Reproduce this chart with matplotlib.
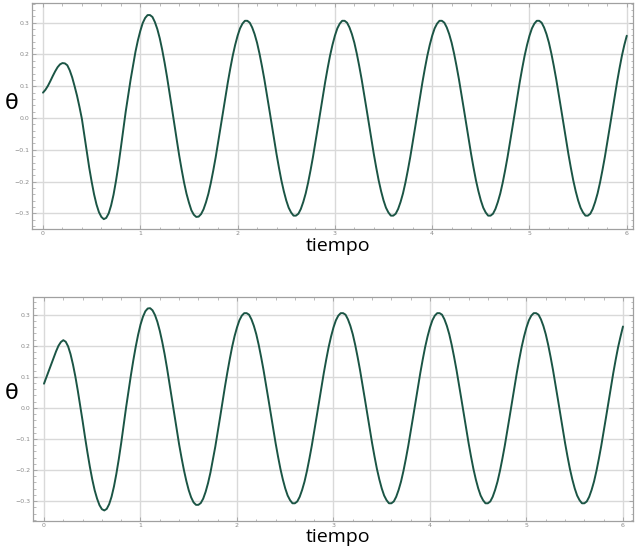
import numpy as np
import matplotlib
matplotlib.use("Agg")
import matplotlib.pyplot as plt
from matplotlib.ticker import MultipleLocator

# time samples (s)
tiempo = [round(0.025 * i, 3) for i in range(241)]

# theta, upper panel, t = 0 ... 6 step 0.025
theta_sup = [
    # 0.00 - 0.975
    0.080, 0.089, 0.101, 0.116, 0.132, 0.147, 0.160, 0.169, 0.173, 0.172,
    0.166, 0.150, 0.128, 0.100, 0.070, 0.035, -0.003, -0.053, -0.105, -0.156,
    -0.200, -0.240, -0.272, -0.296, -0.311, -0.318, -0.314, -0.300, -0.275, -0.241,
    -0.198, -0.149, -0.094, -0.036, 0.020, 0.071, 0.120, 0.165, 0.208, 0.244,
    # 1.00 - 1.975
    0.274, 0.299, 0.315, 0.324, 0.324, 0.318, 0.302, 0.280, 0.251, 0.215,
    0.174, 0.129, 0.081, 0.031, -0.020, -0.069, -0.118, -0.162, -0.203, -0.238,
    -0.266, -0.290, -0.304, -0.311, -0.310, -0.302, -0.287, -0.265, -0.238, -0.204,
    -0.165, -0.123, -0.077, -0.029, 0.019, 0.067, 0.113, 0.156, 0.196, 0.230,
    # 2.00 - 2.975
    0.259, 0.282, 0.297, 0.306, 0.306, 0.300, 0.285, 0.264, 0.237, 0.203,
    0.164, 0.122, 0.076, 0.029, -0.019, -0.067, -0.113, -0.156, -0.196, -0.230,
    -0.259, -0.282, -0.297, -0.307, -0.307, -0.301, -0.286, -0.264, -0.237, -0.203,
    -0.164, -0.122, -0.076, -0.029, 0.019, 0.067, 0.113, 0.156, 0.196, 0.230,
    # 3.00 - 3.975
    0.259, 0.282, 0.297, 0.306, 0.306, 0.300, 0.285, 0.264, 0.237, 0.203,
    0.164, 0.122, 0.076, 0.029, -0.019, -0.067, -0.113, -0.156, -0.196, -0.230,
    -0.259, -0.282, -0.297, -0.307, -0.307, -0.301, -0.286, -0.264, -0.237, -0.203,
    -0.164, -0.122, -0.076, -0.029, 0.019, 0.067, 0.113, 0.156, 0.196, 0.230,
    # 4.00 - 4.975
    0.259, 0.282, 0.297, 0.306, 0.306, 0.300, 0.285, 0.264, 0.237, 0.203,
    0.164, 0.122, 0.076, 0.029, -0.019, -0.067, -0.113, -0.156, -0.196, -0.230,
    -0.259, -0.282, -0.297, -0.307, -0.307, -0.301, -0.286, -0.264, -0.237, -0.203,
    -0.164, -0.122, -0.076, -0.029, 0.019, 0.067, 0.113, 0.156, 0.196, 0.230,
    # 5.00 - 5.975
    0.259, 0.282, 0.297, 0.306, 0.306, 0.300, 0.285, 0.264, 0.237, 0.203,
    0.164, 0.122, 0.076, 0.029, -0.019, -0.067, -0.113, -0.156, -0.196, -0.230,
    -0.259, -0.282, -0.297, -0.307, -0.307, -0.301, -0.286, -0.264, -0.237, -0.203,
    -0.164, -0.122, -0.076, -0.029, 0.019, 0.067, 0.113, 0.156, 0.196, 0.230,
    # 6.00
    0.259,
]

# theta, lower panel, t = 0 ... 6 step 0.025
theta_inf = [
    # 0.00 - 0.975
    0.078, 0.099, 0.120, 0.141, 0.161, 0.182, 0.200, 0.212, 0.218, 0.213,
    0.198, 0.173, 0.140, 0.101, 0.056, 0.008, -0.042, -0.094, -0.143, -0.189,
    -0.230, -0.265, -0.292, -0.313, -0.326, -0.330, -0.325, -0.310, -0.286, -0.253,
    -0.212, -0.165, -0.113, -0.057, 0.000, 0.052, 0.104, 0.152, 0.196, 0.235,
    # 1.00 - 1.975
    0.268, 0.293, 0.311, 0.320, 0.321, 0.314, 0.299, 0.277, 0.248, 0.213,
    0.173, 0.128, 0.080, 0.030, -0.020, -0.068, -0.117, -0.160, -0.200, -0.235,
    -0.265, -0.288, -0.304, -0.312, -0.312, -0.306, -0.292, -0.270, -0.242, -0.208,
    -0.167, -0.125, -0.078, -0.030, 0.019, 0.068, 0.114, 0.157, 0.197, 0.231,
    # 2.00 - 2.975
    0.259, 0.282, 0.297, 0.305, 0.305, 0.300, 0.285, 0.264, 0.237, 0.203,
    0.164, 0.122, 0.076, 0.029, -0.019, -0.067, -0.113, -0.156, -0.196, -0.230,
    -0.259, -0.282, -0.297, -0.307, -0.307, -0.301, -0.286, -0.264, -0.237, -0.203,
    -0.164, -0.122, -0.076, -0.029, 0.019, 0.067, 0.113, 0.156, 0.196, 0.230,
    # 3.00 - 3.975
    0.259, 0.282, 0.297, 0.305, 0.305, 0.300, 0.285, 0.264, 0.237, 0.203,
    0.164, 0.122, 0.076, 0.029, -0.019, -0.067, -0.113, -0.156, -0.196, -0.230,
    -0.259, -0.282, -0.297, -0.307, -0.307, -0.301, -0.286, -0.264, -0.237, -0.203,
    -0.164, -0.122, -0.076, -0.029, 0.019, 0.067, 0.113, 0.156, 0.196, 0.230,
    # 4.00 - 4.975
    0.259, 0.282, 0.297, 0.305, 0.305, 0.300, 0.285, 0.264, 0.237, 0.203,
    0.164, 0.122, 0.076, 0.029, -0.019, -0.067, -0.113, -0.156, -0.196, -0.230,
    -0.259, -0.282, -0.297, -0.307, -0.307, -0.301, -0.286, -0.264, -0.237, -0.203,
    -0.164, -0.122, -0.076, -0.029, 0.019, 0.067, 0.113, 0.156, 0.196, 0.230,
    # 5.00 - 5.975
    0.259, 0.282, 0.297, 0.305, 0.305, 0.300, 0.285, 0.264, 0.237, 0.203,
    0.164, 0.122, 0.076, 0.029, -0.019, -0.067, -0.113, -0.156, -0.196, -0.230,
    -0.259, -0.282, -0.297, -0.307, -0.307, -0.301, -0.286, -0.264, -0.237, -0.203,
    -0.164, -0.122, -0.076, -0.029, 0.019, 0.067, 0.113, 0.156, 0.196, 0.230,
    # 6.00
    0.262,
]

x_ticks = [0, 1, 2, 3, 4, 5, 6]
y_ticks = [-0.3, -0.2, -0.1, 0.0, 0.1, 0.2, 0.3]
y_ticklabels = ["\u22120.3", "\u22120.2", "\u22120.1", "0.0", "0.1", "0.2", "0.3"]

line_color = "#1b5545"
frame_color = "#a0a0a0"
grid_color = "#d9d9d9"

fig = plt.figure(figsize=(6.35, 5.49), dpi=100)
fig.patch.set_facecolor("white")

W, H = 635, 549
panels = [
    # (left, top, right, bottom) in pixels, xlim, ylim, data, theta y, tiempo y
    ((32, 3, 633, 229), (-0.113, 6.064), (-0.349, 0.362), theta_sup, 103, 246),
    ((33, 297, 633, 521), (-0.114, 6.104), (-0.364, 0.357), theta_inf, 393, 537),
]

for (l, t, r, b), xl, yl, data, ty, xy in panels:
    ax = fig.add_axes([l / W, 1 - b / H, (r - l) / W, (b - t) / H])
    ax.plot(tiempo, data, color=line_color, lw=1.4, solid_capstyle="round",
            solid_joinstyle="round")
    ax.set_xlim(*xl)
    ax.set_ylim(*yl)
    ax.set_xticks(x_ticks)
    ax.set_xticklabels([str(v) for v in x_ticks])
    ax.set_yticks(y_ticks)
    ax.set_yticklabels(y_ticklabels)
    ax.xaxis.set_minor_locator(MultipleLocator(0.2))
    ax.yaxis.set_minor_locator(MultipleLocator(0.02))
    ax.grid(True, which="major", color=grid_color, lw=1.0)
    ax.set_axisbelow(True)
    for s in ax.spines.values():
        s.set_color(frame_color)
        s.set_linewidth(0.9)
    ax.tick_params(which="both", direction="in", colors=frame_color,
                   top=True, right=True, labelsize=4.5, labelcolor="#8a8a8a")
    ax.tick_params(axis="x", pad=1.5)
    ax.tick_params(axis="y", pad=2)
    ax.tick_params(which="major", length=3, width=0.6)
    ax.tick_params(which="minor", length=1.8, width=0.5)
    fig.text(12 / W, 1 - ty / H, "\u03b8", fontsize=16, family="DejaVu Sans",
             ha="center", va="center", color="black")
    fig.text(338 / W, 1 - xy / H, "tiempo", fontsize=14, family="Open Sans",
             ha="center", va="center", color="black")

fig.savefig("out.png", dpi=100, facecolor="white")
